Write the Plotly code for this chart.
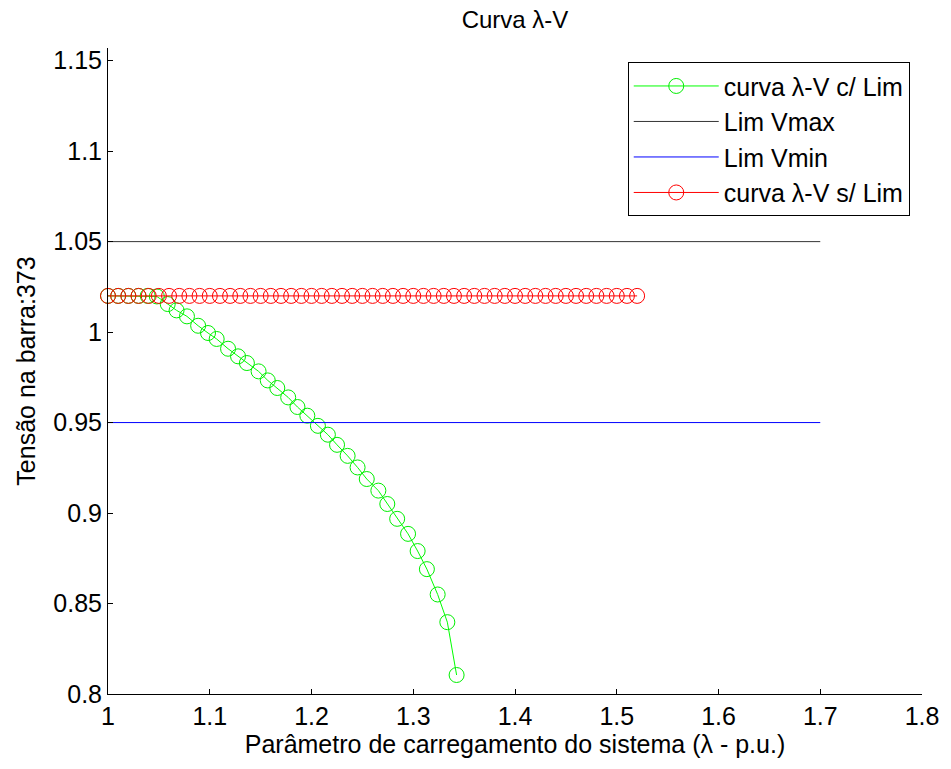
import plotly.graph_objects as go

# Data
green_x = [1.00, 1.01, 1.02, 1.03, 1.039, 1.048, 1.0587, 1.0674, 1.0776, 1.0886, 1.0983, 1.1068,
           1.118, 1.1278, 1.1365, 1.148, 1.157, 1.1664, 1.1771, 1.1862, 1.1959, 1.2063,
           1.2161, 1.2251, 1.2355, 1.2453, 1.2543, 1.2657, 1.2745, 1.2842, 1.2949, 1.3043,
           1.3134, 1.324, 1.3335, 1.3426]
green_y = [1.02, 1.02, 1.02, 1.02, 1.02, 1.0197, 1.0155, 1.012, 1.0087, 1.0035, 0.9995, 0.9962,
           0.9908, 0.9866, 0.9829, 0.9783, 0.9733, 0.9691, 0.9639, 0.9586, 0.9538, 0.9482,
           0.9433, 0.9377, 0.9316, 0.9252, 0.9188, 0.9124, 0.905, 0.8968, 0.8885, 0.879,
           0.869, 0.855, 0.8397, 0.8105]
red_x = [round(1.0 + 0.01 * i, 2) for i in range(53)]
red_y = [1.02] * 53
vmax_x = [1.0, 1.7]
vmax_y = [1.05, 1.05]
vmin_x = [1.0, 1.7]
vmin_y = [0.95, 0.95]

x_ticks = [1.0, 1.1, 1.2, 1.3, 1.4, 1.5, 1.6, 1.7, 1.8]
x_labels = ["1", "1.1", "1.2", "1.3", "1.4", "1.5", "1.6", "1.7", "1.8"]
y_ticks = [0.8, 0.85, 0.9, 0.95, 1.0, 1.05, 1.1, 1.15]
y_labels = ["0.8", "0.85", "0.9", "0.95", "1", "1.05", "1.1", "1.15"]

fig = go.Figure()
fig.add_trace(go.Scatter(x=green_x, y=green_y, mode="lines+markers", name="curva λ-V c/ Lim",
                         line=dict(color="#00FF00", width=1),
                         marker=dict(symbol="circle-open", size=15, color="#00EE00", line=dict(width=1))))
fig.add_trace(go.Scatter(x=vmax_x, y=vmax_y, mode="lines", name="Lim Vmax",
                         line=dict(color="#000000", width=0.8)))
fig.add_trace(go.Scatter(x=vmin_x, y=vmin_y, mode="lines", name="Lim Vmin",
                         line=dict(color="#0000FF", width=1)))
fig.add_trace(go.Scatter(x=red_x, y=red_y, mode="lines+markers", name="curva λ-V s/ Lim",
                         line=dict(color="#FF0000", width=1),
                         marker=dict(symbol="circle-open", size=15, color="#FF0000", line=dict(width=1))))
fig.update_traces(cliponaxis=False)

font = "Liberation Sans, Arial, sans-serif"
fig.update_layout(
    width=951, height=769,
    margin=dict(l=108, r=21, t=48, b=75),
    paper_bgcolor="white", plot_bgcolor="white",
    font=dict(family=font, size=25, color="black"),
    title=dict(text="Curva λ-V", xref="paper", x=0.5, xanchor="center", y=0.985, yanchor="top",
               font=dict(size=24)),
    showlegend=True,
    legend=dict(x=0.6385, y=0.978, xanchor="left", yanchor="top",
                bordercolor="black", borderwidth=1, bgcolor="white",
                font=dict(size=25), itemwidth=85, tracegroupgap=0),
    xaxis=dict(range=[1.0, 1.8], tickvals=x_ticks, ticktext=x_labels,
               showgrid=False, zeroline=False, showline=True, linecolor="black", linewidth=1,
               ticks="inside", ticklen=5, tickcolor="black", tickfont=dict(size=25),
               title=dict(text="Parâmetro de carregamento do sistema (λ - p.u.)", standoff=6,
                          font=dict(size=25))),
    yaxis=dict(range=[0.8, 1.157], tickvals=y_ticks, ticktext=y_labels,
               showgrid=False, zeroline=False, showline=True, linecolor="black", linewidth=1,
               ticks="inside", ticklen=5, tickcolor="black", tickfont=dict(size=25),
               title=dict(text="Tensão na barra:373", standoff=10, font=dict(size=25))),
)

fig.write_html("out.html")
